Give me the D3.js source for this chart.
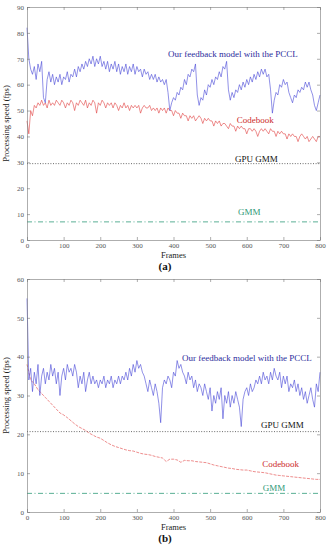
<!DOCTYPE html>
<html>
<head>
<meta charset="utf-8">
<script src="https://cdn.jsdelivr.net/npm/d3@7"></script>
<style>
  body { margin: 0; background: #fff; }
  svg { display: block; }
  .tick text { font-family: "Liberation Serif", serif; font-size: 7px; fill: #555; }
  .lbl { font-family: "Liberation Serif", serif; }
</style>
</head>
<body>
<svg id="chart" width="330" height="550"></svg>
<script>
// frames are sampled every 5 (lines) or 10 (smooth codebook in b)
var frameTicks = [0, 100, 200, 300, 400, 500, 600, 700, 800];
var yTicksA = [0, 10, 20, 30, 40, 50, 60, 70, 80, 90];
var yTicksB = [0, 10, 20, 30, 40, 50, 60];

// (a) feedback model with PCCL, every 5 frames
var pcclA = [82,70,66,64,67,62,68,65,69,55,53,62,65,61,64,60,63,61,64,60,
  63,62,65,61,64,63,66,63,67,65,68,66,69,67,70,68,71,67,70,68,
  71,67,69,66,69,65,68,66,69,65,68,64,67,65,68,64,67,65,68,64,
  67,65,66,63,66,64,65,62,64,62,64,61,63,61,62,60,62,57,50,53,
  55,54,57,56,59,58,62,60,64,63,66,65,68,56,52,55,54,58,56,60,
  59,62,60,63,62,65,63,67,66,69,58,54,57,55,58,57,60,58,61,59,
  62,60,63,61,64,62,65,63,66,64,66,63,64,58,49,54,57,56,60,59,
  62,60,61,57,55,53,56,55,58,57,59,58,61,59,61,58,56,52,50,53,56];
// (a) codebook, every 5 frames
var codebookA = [46,41,50,48,52,51,53,52,54,52,53,51,54,52,53,52,54,53,52,54,
  53,51,53,52,54,53,50,53,52,54,53,52,54,51,53,52,54,53,49,53,
  52,54,53,51,53,52,53,51,53,52,50,52,51,53,51,52,50,52,51,52,
  51,52,49,51,52,51,51,52,50,51,50,51,49,51,50,51,49,51,50,50,
  48,50,49,49,47,49,48,48,46,48,47,48,46,47,48,47,45,47,46,47,
  46,46,44,46,45,46,44,45,45,44,43,45,44,44,42,44,43,44,43,43,
  41,43,43,42,43,42,40,42,43,42,43,42,41,43,42,42,40,42,41,42,
  41,41,39,41,40,41,40,40,38,40,41,40,39,40,38,39,40,39,38,40,40];
var gpuGmmA = 29.5;
var gmmA = 7;

// (b) feedback model with PCCL, every 5 frames
var pcclB = [55,34,37,31,36,33,38,30,35,37,33,36,34,38,35,37,33,36,30,35,
  37,34,38,36,37,35,38,36,32,35,33,36,31,34,36,33,35,33,34,32,
  34,33,35,32,34,33,35,32,34,33,35,33,35,34,36,34,37,35,38,36,
  39,37,38,36,35,33,31,34,32,30,33,31,28,23,32,34,33,35,34,32,
  36,35,39,37,38,36,35,33,36,34,35,32,34,31,33,32,30,33,31,29,
  32,26,30,28,31,29,32,24,30,28,31,27,30,28,31,29,27,22,29,31,
  32,30,33,31,32,34,33,35,33,36,34,35,33,36,34,37,35,34,36,32,
  35,33,35,31,33,32,34,31,33,30,32,29,31,28,30,32,29,27,33,31,36];
// (b) codebook, every 10 frames
var codebookB = [38,34,33,31.5,30.5,29.5,28.5,27.5,26.5,25.5,
  25,24.3,23.5,22.7,22,21.5,21,20.3,19.8,19.3,
  19,18.4,17.8,17.3,16.9,16.6,16.3,16,15.8,15.7,
  15.4,15.1,14.9,14.8,14.6,14.3,14.1,13.9,13,13.6,
  13.6,13.4,12.8,13.3,13.2,13.2,13,12.9,12.8,12.7,
  12.4,12.1,11.9,11.7,11.5,11.3,11.2,11,10.9,10.8,
  10.8,10.6,10.4,10.3,10.2,10.1,9.9,9.7,9.5,9.4,
  9.3,9.2,9.1,9,8.9,8.8,8.7,8.6,8.5,8.4,8.4];
var gpuGmmB = 20.7;
var gmmB = 4.8;

var svg = d3.select("#chart");
svg.append("rect").attr("width", 330).attr("height", 550).attr("fill", "#fff");

var colBlue = "#4646d6", colRed = "#e04040", colGreen = "#2f9a78";

function toPoints(vals, step) {
  return vals.map(function(v, i) { return {f: i * step, v: v}; });
}

function drawPanel(p) {
  var x = d3.scaleLinear().domain([0, 800]).range([p.left, p.right]);
  var y = d3.scaleLinear().domain([0, p.ymax]).range([p.bottom, p.top]);
  var g = svg.append("g");

  var line = d3.line().x(function(d) { return x(d.f); }).y(function(d) { return y(d.v); });

  // flat reference lines
  g.append("path")
    .datum([{f: 0, v: p.gpu}, {f: 800, v: p.gpu}])
    .attr("d", line).attr("fill", "none")
    .attr("stroke", "#444").attr("stroke-width", 0.8).attr("stroke-dasharray", "1,1.6");
  g.append("path")
    .datum([{f: 0, v: p.gmm}, {f: 800, v: p.gmm}])
    .attr("d", line).attr("fill", "none")
    .attr("stroke", colGreen).attr("stroke-width", 0.8).attr("stroke-dasharray", "5,2.5,1,2.5");

  g.append("path")
    .datum(toPoints(p.codebook, p.cbStep))
    .attr("d", line).attr("fill", "none")
    .attr("stroke", colRed).attr("stroke-width", 0.6)
    .attr("stroke-dasharray", p.cbDash);
  g.append("path")
    .datum(toPoints(p.pccl, 5))
    .attr("d", line).attr("fill", "none")
    .attr("stroke", colBlue).attr("stroke-width", 0.6);

  // box + inward ticks
  var axes = [
    [d3.axisBottom(x).tickValues(frameTicks).tickSize(-3).tickPadding(3), "translate(0," + p.bottom + ")", true],
    [d3.axisTop(x).tickValues(frameTicks).tickSize(-3), "translate(0," + p.top + ")", false],
    [d3.axisLeft(y).tickValues(p.yTicks).tickSize(-3).tickPadding(3), "translate(" + p.left + ",0)", true],
    [d3.axisRight(y).tickValues(p.yTicks).tickSize(-3), "translate(" + p.right + ",0)", false]
  ];
  axes.forEach(function(a) {
    var ag = g.append("g").attr("transform", a[1]).call(a[0].tickSizeOuter(0));
    ag.selectAll("path, line").attr("stroke", "#777").attr("stroke-width", 0.6);
    if (!a[2]) ag.selectAll("text").remove();
  });

  // annotations
  p.notes.forEach(function(n) {
    g.append("text").attr("class", "lbl")
      .attr("x", x(n.f)).attr("y", y(n.v))
      .attr("font-size", 9).attr("fill", n.color)
      .text(n.text);
  });

  var midX = (p.left + p.right) / 2;
  g.append("text").attr("class", "lbl")
    .attr("x", midX).attr("y", p.bottom + 18)
    .attr("text-anchor", "middle").attr("font-size", 8.5).attr("fill", "#222")
    .text("Frames");
  g.append("text").attr("class", "lbl")
    .attr("x", 165).attr("y", p.bottom + 30)
    .attr("text-anchor", "middle").attr("font-size", 11).attr("font-weight", "bold").attr("fill", "#111")
    .text(p.tag);
  g.append("text").attr("class", "lbl")
    .attr("transform", "translate(9," + ((p.top + p.bottom) / 2) + ") rotate(-90)")
    .attr("text-anchor", "middle").attr("font-size", 8.5).attr("fill", "#222")
    .text("Processing speed (fps)");
}

drawPanel({
  left: 27, right: 320, top: 7, bottom: 240, ymax: 90, yTicks: yTicksA,
  pccl: pcclA, codebook: codebookA, cbStep: 5, cbDash: null, gpu: gpuGmmA, gmm: gmmA,
  tag: "(a)",
  notes: [
    {text: "Our feedback model with the PCCL", f: 385, v: 70.5, color: "#2b2b9c"},
    {text: "Codebook", f: 573, v: 45.2, color: "#cc2b2b"},
    {text: "GPU GMM", f: 568, v: 30.1, color: "#111"},
    {text: "GMM", f: 576, v: 9.7, color: colGreen}
  ]
});

drawPanel({
  left: 27, right: 320, top: 279, bottom: 512, ymax: 60, yTicks: yTicksB,
  pccl: pcclB, codebook: codebookB, cbStep: 10, cbDash: "3,1.2", gpu: gpuGmmB, gmm: gmmB,
  tag: "(b)",
  notes: [
    {text: "Our feedback model with the PCCL", f: 423, v: 38.9, color: "#2b2b9c"},
    {text: "GPU GMM", f: 639, v: 21.6, color: "#111"},
    {text: "Codebook", f: 642, v: 11.6, color: "#cc2b2b"},
    {text: "GMM", f: 644, v: 5.4, color: colGreen}
  ]
});
</script>
</body>
</html>
